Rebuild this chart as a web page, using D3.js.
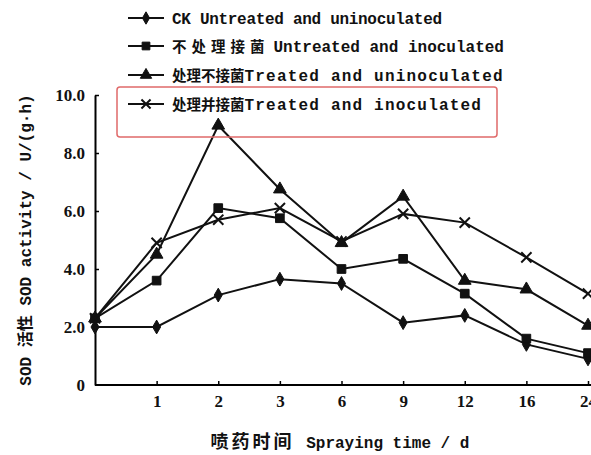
<!DOCTYPE html>
<html>
<head>
<meta charset="utf-8">
<script src="https://cdn.jsdelivr.net/npm/d3@7"></script>
<style>
  body { margin: 0; background: #fff; }
  svg { display: block; }
  .tick text { font-family: "Liberation Serif", serif; font-weight: bold; font-size: 17px; fill: #111; }
</style>
</head>
<body>
<svg id="chart" width="591" height="455"></svg>
<script>
// spraying days (first category has no label)
const days = ["0", "1", "2", "3", "6", "9", "12", "16", "24"];
const yTicks = [0, 2, 4, 6, 8, 10];

// SOD activity U/(g.h)
const ck = [2.0, 2.0, 3.1, 3.65, 3.5, 2.15, 2.4, 1.4, 0.9];
const untreatedInoc = [2.3, 3.6, 6.1, 5.75, 4.0, 4.35, 3.15, 1.6, 1.1];
const treatedUninoc = [2.3, 4.5, 8.95, 6.75, 4.9, 6.5, 3.6, 3.3, 2.05];
const treatedInoc = [2.3, 4.9, 5.7, 6.1, 4.95, 5.9, 5.6, 4.4, 3.15];

const seriesCn = ["", "不处理接菌", "处理不接菌", "处理并接菌"];
const seriesEn = ["CK Untreated and uninoculated", "Untreated and inoculated", "Treated and uninoculated", "Treated and inoculated"];

const allSeries = [ck, untreatedInoc, treatedUninoc, treatedInoc];
const shapes = [d3.symbolDiamond, d3.symbolSquare, d3.symbolTriangle, d3.symbolTimes];
const shapeSize = [55, 75, 70, 70];

const svg = d3.select("#chart");

const x = d3.scalePoint().domain(days).range([95, 588]);
const y = d3.scaleLinear().domain([0, 10]).range([385, 95]);

// axes
const xAxis = d3.axisBottom(x)
    .tickSizeInner(-4)
    .tickSizeOuter(0)
    .tickPadding(10)
    .tickFormat(d => d === "0" ? "" : d);

svg.append("g")
    .attr("transform", "translate(0,385)")
    .call(xAxis)
    .call(g => g.select(".domain").attr("stroke-width", 2).attr("d", "M95,0H591"))
    .call(g => g.selectAll(".tick line").attr("stroke-width", 1.5))
    .call(g => g.selectAll(".tick").filter(d => d === "0").select("line").remove());

const yAxis = d3.axisLeft(y)
    .tickValues(yTicks)
    .tickSizeInner(-4)
    .tickSizeOuter(0)
    .tickPadding(10)
    .tickFormat(d => d === 0 ? "0" : d.toFixed(1));

svg.append("g")
    .attr("transform", "translate(95,0)")
    .call(yAxis)
    .call(g => g.select(".domain").attr("stroke-width", 2))
    .call(g => g.selectAll(".tick line").attr("stroke-width", 1.5))
    .call(g => g.selectAll(".tick").filter(d => d === 0).select("line").remove());

// lines and markers
const line = d3.line()
    .x((d, i) => x(days[i]))
    .y(d => y(d));

allSeries.forEach((vals, s) => {
    svg.append("path")
        .datum(vals)
        .attr("fill", "none")
        .attr("stroke", "#111")
        .attr("stroke-width", 2)
        .attr("d", line);

    svg.selectAll(".pt" + s)
        .data(vals)
        .enter()
        .append("path")
        .attr("transform", (d, i) => `translate(${x(days[i])},${y(d)})`)
        .attr("d", d3.symbol().type(shapes[s]).size(shapeSize[s]))
        .attr("fill", "#111")
        .attr("stroke", "#111")
        .attr("stroke-width", s === 3 ? 2 : 1);
});

// legend
const legY = [18, 46, 75, 104];
const legSpacing = [-0.3, 0, 1.2, 1.2];
seriesEn.forEach((en, s) => {
    const g = svg.append("g").attr("transform", `translate(0,${legY[s]})`);
    g.append("line")
        .attr("x1", 128).attr("x2", 164)
        .attr("stroke", "#111").attr("stroke-width", 2);
    g.append("path")
        .attr("transform", "translate(146,0)")
        .attr("d", d3.symbol().type(shapes[s]).size(shapeSize[s] * 0.8))
        .attr("fill", "#111")
        .attr("stroke", "#111")
        .attr("stroke-width", s === 3 ? 2 : 1);
    const t = g.append("text")
        .attr("x", 172)
        .attr("y", 6)
        .attr("fill", "#111");
    if (seriesCn[s]) {
        t.append("tspan")
            .attr("font-family", "Noto Sans CJK SC")
            .attr("font-weight", "bold")
            .attr("font-size", 14.5)
            .attr("letter-spacing", s === 1 ? 5 : 0)
            .text(seriesCn[s]);
    }
    t.append("tspan")
        .attr("font-family", "Liberation Mono")
        .attr("font-weight", "bold")
        .attr("font-size", 16)
        .attr("letter-spacing", legSpacing[s])
        .attr("dx", s === 1 ? 4 : 0)
        .text(en);
});

// red highlight box round the last legend entry
svg.append("rect")
    .attr("x", 117).attr("y", 87)
    .attr("width", 380).attr("height", 50)
    .attr("rx", 3)
    .attr("fill", "none")
    .attr("stroke", "#e06a6a")
    .attr("stroke-width", 1.5);

// axis titles
const yt = svg.append("text")
    .attr("transform", "translate(31,240) rotate(-90)")
    .attr("text-anchor", "middle")
    .attr("fill", "#111")
    .attr("font-family", "Liberation Mono")
    .attr("font-weight", "bold")
    .attr("font-size", 16);
yt.append("tspan").text("SOD ");
yt.append("tspan").attr("font-family", "Noto Sans CJK SC").attr("font-size", 16).text("活性");
yt.append("tspan").text(" SOD activity / U/(g·h)");

const xt = svg.append("text")
    .attr("x", 340).attr("y", 448)
    .attr("text-anchor", "middle")
    .attr("fill", "#111")
    .attr("font-family", "Liberation Mono")
    .attr("font-weight", "bold")
    .attr("font-size", 16);
xt.append("tspan").attr("font-family", "Noto Sans CJK SC").attr("font-size", 18).attr("letter-spacing", 3).text("喷药时间");
xt.append("tspan").attr("dx", 2).text(" Spraying time / d");
</script>
</body>
</html>
